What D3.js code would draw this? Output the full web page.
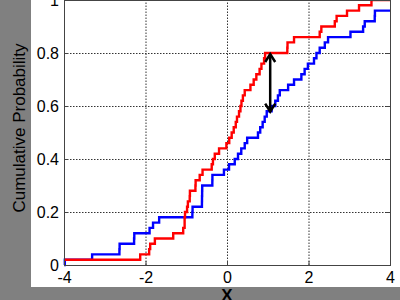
<!DOCTYPE html>
<html>
<head>
<meta charset="utf-8">
<script src="https://cdn.jsdelivr.net/npm/d3@7"></script>
<style>
  body { margin: 0; background: #808080; }
  svg { display: block; font-family: "Liberation Sans", Arial, sans-serif; }
  .tick text { font-size: 16px; fill: #000; }
</style>
</head>
<body>
<div id="chart"></div>
<script>
// step positions (x) and cumulative level after the step
const redX = [-4, -2.13, -1.91, -1.885, -1.77, -1.32, -1.075, -1.04, -1.04, -1.03, -0.98, -0.96, -0.915, -0.91,
  -0.775, -0.77, -0.67, -0.60, -0.375, -0.345, -0.30, -0.195, -0.015, 0.055, 0.115, 0.165, 0.215, 0.245,
  0.295, 0.33, 0.355, 0.39, 0.435, 0.575, 0.655, 0.72, 0.80, 0.845, 0.91, 0.935, 1.48, 1.485, 1.645,
  2.275, 2.315, 2.645, 2.69, 2.945, 3.24, 3.545];
const redP = [0.02, 0.04, 0.06, 0.08, 0.10, 0.12, 0.14, 0.16, 0.18, 0.20, 0.22, 0.24, 0.26, 0.28,
  0.30, 0.32, 0.34, 0.36, 0.38, 0.40, 0.42, 0.44, 0.46, 0.48, 0.50, 0.52, 0.54, 0.56,
  0.58, 0.60, 0.62, 0.64, 0.66, 0.68, 0.70, 0.72, 0.74, 0.76, 0.78, 0.80, 0.82, 0.84, 0.86,
  0.88, 0.90, 0.92, 0.94, 0.96, 0.98, 1.00];

const blueX = [-4, -3.98, -3.31, -2.64, -2.635, -2.28, -2.275, -1.90, -1.815, -1.665, -0.85, -0.845,
  -0.615, -0.613, -0.61, -0.608, -0.36, -0.358, -0.075, 0.05, 0.19, 0.27, 0.35, 0.435, 0.495,
  0.76, 0.815, 0.875, 0.925, 0.975, 1.095, 1.185, 1.25, 1.295, 1.50, 1.645, 1.825, 1.905, 1.985,
  2.135, 2.195, 2.275, 2.40, 2.48, 3.03, 3.34, 3.38, 3.625, 3.63];
const blueP = [0, 0.02, 0.04, 0.06, 0.08, 0.10, 0.12, 0.14, 0.16, 0.18, 0.20, 0.22,
  0.24, 0.26, 0.28, 0.30, 0.32, 0.34, 0.36, 0.38, 0.40, 0.42, 0.44, 0.46, 0.48,
  0.50, 0.52, 0.54, 0.56, 0.58, 0.60, 0.62, 0.64, 0.66, 0.68, 0.70, 0.72, 0.74, 0.76,
  0.78, 0.80, 0.82, 0.84, 0.86, 0.88, 0.90, 0.92, 0.94, 0.96];

const xTicks = [-4, -2, 0, 2, 4];
const yTicks = [0, 0.2, 0.4, 0.6, 0.8, 1];
const xGrid = [-2, 0, 2];
const yGrid = [0.2, 0.4, 0.6, 0.8];

// the arrow between the two curves
const arrowX = 1.06;
const arrowTop = 0.80;
const arrowBottom = 0.575;

const width = 400, height = 300;
const plotLeft = 64, plotRight = 390, plotTop = 0, plotBottom = 265;

const svg = d3.select("#chart")
  .append("svg")
  .attr("width", width)
  .attr("height", height);

// white figure area, gray round it
svg.append("rect")
  .attr("width", width).attr("height", height)
  .attr("fill", "#808080");
svg.append("rect")
  .attr("x", 31).attr("y", 0)
  .attr("width", width - 31).attr("height", 287)
  .attr("fill", "#fff");

const x = d3.scaleLinear().domain([-4, 4]).range([plotLeft, plotRight]);
const y = d3.scaleLinear().domain([0, 1]).range([plotBottom, plotTop]);

// dotted grid
svg.append("g")
  .attr("transform", "translate(0," + plotBottom + ")")
  .call(d3.axisBottom(x).tickValues(xGrid).tickSize(-(plotBottom - plotTop)).tickFormat(""))
  .call(g => g.select(".domain").remove())
  .selectAll("line")
  .attr("stroke", "#333")
  .attr("stroke-dasharray", "1.5,1.5");

svg.append("g")
  .attr("transform", "translate(" + plotLeft + ",0)")
  .call(d3.axisLeft(y).tickValues(yGrid).tickSize(-(plotRight - plotLeft)).tickFormat(""))
  .call(g => g.select(".domain").remove())
  .selectAll("line")
  .attr("stroke", "#333")
  .attr("stroke-dasharray", "1.5,1.5");

// curves
const line = d3.line()
  .x(d => x(d[0]))
  .y(d => y(d[1]))
  .curve(d3.curveStepAfter);

const bluePts = blueX.map((v, i) => [v, blueP[i]]);
bluePts.push([4, blueP[blueP.length - 1]]);
const redPts = redX.map((v, i) => [v, redP[i]]);
redPts.push([4, redP[redP.length - 1]]);

svg.append("path")
  .datum(bluePts)
  .attr("d", line)
  .attr("fill", "none")
  .attr("stroke", "#0000ff")
  .attr("stroke-width", 2.4);

svg.append("path")
  .datum(redPts)
  .attr("d", line)
  .attr("fill", "none")
  .attr("stroke", "#ff0000")
  .attr("stroke-width", 2.4);

// arrow
const ax = x(arrowX), a1 = y(arrowTop), a2 = y(arrowBottom);
svg.append("line")
  .attr("x1", ax).attr("x2", ax)
  .attr("y1", a1 + 1).attr("y2", a2 - 1)
  .attr("stroke", "#000").attr("stroke-width", 2.5);
svg.append("path")
  .attr("d", `M${ax - 5},${a1 + 9}L${ax},${a1 + 1}L${ax + 5},${a1 + 9}`)
  .attr("fill", "none").attr("stroke", "#000").attr("stroke-width", 2.5);
svg.append("path")
  .attr("d", `M${ax - 5},${a2 - 9}L${ax},${a2 - 1}L${ax + 5},${a2 - 9}`)
  .attr("fill", "none").attr("stroke", "#000").attr("stroke-width", 2.5);

// axes, ticks pointing inward
const xAxis = svg.append("g")
  .attr("transform", "translate(0," + plotBottom + ")")
  .call(d3.axisBottom(x).tickValues(xTicks).tickSize(-4).tickPadding(7).tickFormat(d => String(d)));
xAxis.select(".domain").remove();
xAxis.selectAll("line").attr("stroke", "#444");

const yAxis = svg.append("g")
  .attr("transform", "translate(" + plotLeft + ",0)")
  .call(d3.axisLeft(y).tickValues(yTicks).tickSize(-4).tickPadding(5).tickFormat(d => String(d)));
yAxis.select(".domain").remove();
yAxis.selectAll("line").attr("stroke", "#444");

svg.append("g")
  .attr("transform", "translate(" + plotRight + ",0)")
  .call(d3.axisRight(y).tickValues(yTicks).tickSize(-4).tickFormat(""))
  .call(g => g.select(".domain").remove())
  .selectAll("line").attr("stroke", "#444");

svg.append("rect")
  .attr("x", plotLeft + 0.5).attr("y", plotTop + 0.5)
  .attr("width", plotRight - plotLeft).attr("height", plotBottom - plotTop)
  .attr("fill", "none")
  .attr("stroke", "#444");

// axis titles (both are cut by the picture's edge in the reference too)
svg.append("text")
  .attr("transform", "translate(24.5,128)rotate(-90)")
  .attr("text-anchor", "middle")
  .attr("font-size", 17)
  .text("Cumulative Probability");

svg.append("text")
  .attr("x", x(0))
  .attr("y", 301)
  .attr("text-anchor", "middle")
  .attr("font-size", 17)
  .attr("font-weight", "bold")
  .text("X");
</script>
</body>
</html>
